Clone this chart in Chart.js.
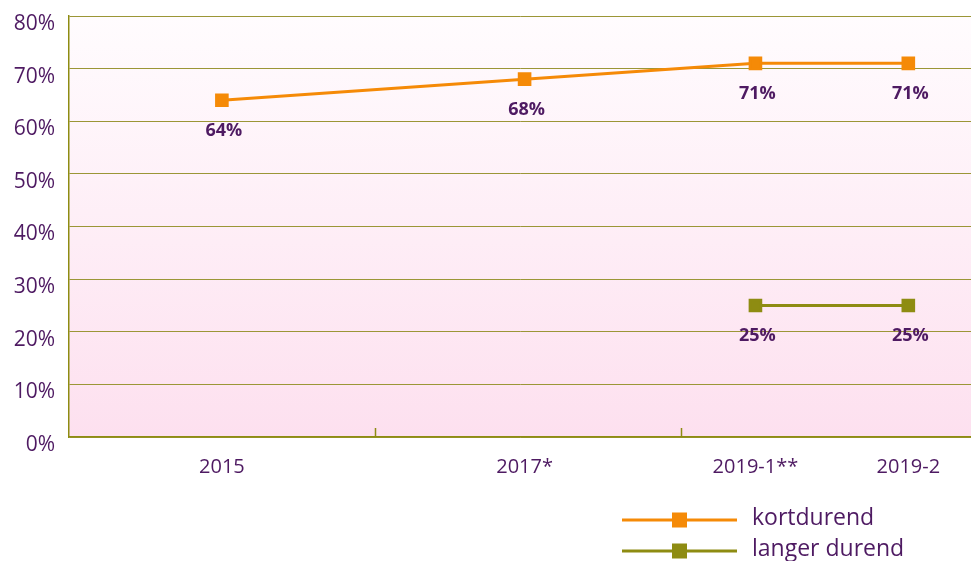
<!DOCTYPE html>
<html>
<head>
<meta charset="utf-8">
<script src="https://cdn.jsdelivr.net/npm/chart.js@4/dist/chart.umd.min.js"></script>
<style>
html,body{margin:0;padding:0;background:#fff;overflow:hidden;}
#wrap{width:971px;height:561px;position:relative;}
</style>
</head>
<body>
<div id="wrap"><canvas id="c" width="971" height="561"></canvas></div>
<script>
// ---- data ----
const categories = ['2015', '2017*', '2019-1**', '2019-2'];
const xPositions = [0.5, 1.49, 2.245, 2.745];   // position of each measurement on the time axis
const kortdurend = [64, 68, 71, 71];
const langerDurend = [null, null, 25, 25];
const seriesNames = ['kortdurend', 'langer durend'];
const yTicks = [0, 10, 20, 30, 40, 50, 60, 70, 80];
const groupBoundaries = [1, 2];

const ORANGE = '#f58a07';
const OLIVE = '#8e8c12';
const GRID = '#9b9636';
const PURPLE = '#4e1a62';
const FONT = "'Open Sans', 'DejaVu Sans', sans-serif";

const toPts = arr => arr.map((v, i) => ({x: xPositions[i], y: v}));

const bgPlugin = {
  id: 'bg',
  beforeDraw(chart) {
    const {ctx, chartArea: a} = chart;
    const g = ctx.createLinearGradient(0, a.top, 0, a.bottom);
    g.addColorStop(0, '#fffcfe');
    g.addColorStop(1, '#fde0ef');
    ctx.save();
    ctx.fillStyle = g;
    ctx.fillRect(a.left, a.top, a.right - a.left, a.bottom - a.top);
    ctx.restore();
  }
};

const extrasPlugin = {
  id: 'extras',
  afterDatasetsDraw(chart) {
    const {ctx, chartArea: a} = chart;
    const xs = chart.scales.x;
    ctx.save();
    // inner tick marks between groups
    ctx.strokeStyle = OLIVE;
    ctx.lineWidth = 1.5;
    groupBoundaries.forEach(v => {
      const px = Math.round(xs.getPixelForValue(v)) + 0.5;
      ctx.beginPath();
      ctx.moveTo(px, a.bottom);
      ctx.lineTo(px, a.bottom - 9);
      ctx.stroke();
    });
    // value labels
    ctx.fillStyle = PURPLE;
    ctx.font = "bold 18px " + FONT;
    ctx.textAlign = 'center';
    ctx.textBaseline = 'middle';
    chart.data.datasets.forEach((ds, di) => {
      const meta = chart.getDatasetMeta(di);
      meta.data.forEach((el, i) => {
        const v = ds.data[i].y;
        if (v == null) return;
        ctx.fillText(v + '%', el.x + 2, el.y + 30.5);
      });
    });
    ctx.restore();
  },
  afterDraw(chart) {
    const {ctx} = chart;
    const colors = [ORANGE, OLIVE];
    ctx.save();
    seriesNames.forEach((name, i) => {
      const y = 520 + i * 31;
      ctx.strokeStyle = colors[i];
      ctx.lineWidth = 3;
      ctx.beginPath();
      ctx.moveTo(622, y);
      ctx.lineTo(737, y);
      ctx.stroke();
      ctx.fillStyle = colors[i];
      ctx.fillRect(672, y - 7.5, 15, 15);
      ctx.fillStyle = PURPLE;
      ctx.font = "23px " + FONT;
      ctx.textAlign = 'left';
      ctx.textBaseline = 'middle';
      ctx.fillText(name, 752, y - 2);
    });
    ctx.restore();
  }
};

new Chart(document.getElementById('c'), {
  type: 'line',
  data: {
    datasets: [
      {label: seriesNames[0], data: toPts(kortdurend), borderColor: ORANGE, backgroundColor: ORANGE,
       borderWidth: 3, pointStyle: 'rect', pointRadius: 7.5, pointHoverRadius: 7.5, tension: 0},
      {label: seriesNames[1], data: toPts(langerDurend), borderColor: OLIVE, backgroundColor: OLIVE,
       borderWidth: 3, pointStyle: 'rect', pointRadius: 7.5, pointHoverRadius: 7.5, tension: 0}
    ]
  },
  options: {
    responsive: false,
    animation: false,
    events: [],
    layout: {autoPadding: false, padding: {top: 16, right: 0, left: 0, bottom: 0}},
    plugins: {legend: {display: false}, tooltip: {enabled: false}},
    scales: {
      x: {
        type: 'linear',
        min: 0,
        max: 2.95,
        afterFit(s) { s.height = 124; s.paddingLeft = 0; s.paddingRight = 0; },
        afterBuildTicks(s) { s.ticks = xPositions.map(v => ({value: v})); },
        grid: {display: false, drawTicks: false},
        border: {display: true, color: OLIVE, width: 1.5},
        ticks: {
          autoSkip: false, maxRotation: 0, padding: 18,
          color: PURPLE, font: {family: FONT, size: 20},
          callback: (v, i) => categories[i]
        }
      },
      y: {
        min: 0, max: 80,
        afterFit(s) { s.width = 69; s.paddingTop = 0; s.paddingBottom = 0; },
        afterBuildTicks(s) { s.ticks = yTicks.map(v => ({value: v})); },
        grid: {color: GRID, lineWidth: 1, drawTicks: false},
        border: {display: true, color: OLIVE, width: 1.5},
        ticks: {
          padding: 14, labelOffset: 8, color: PURPLE, font: {family: FONT, size: 21},
          callback: v => v + '%'
        }
      }
    }
  },
  plugins: [bgPlugin, extrasPlugin]
});
</script>
</body>
</html>
